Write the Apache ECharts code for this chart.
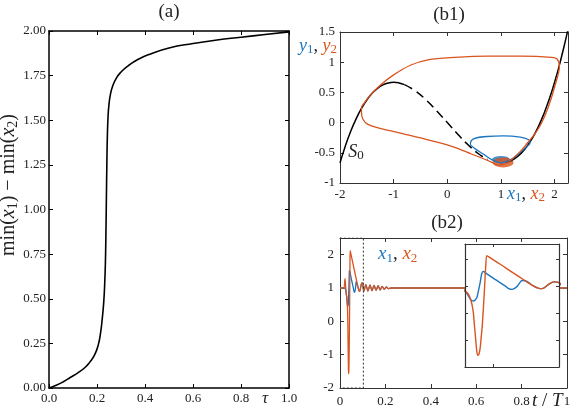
<!DOCTYPE html>
<html>
<head>
<meta charset="utf-8">
<script src="https://cdn.jsdelivr.net/npm/echarts@6/dist/echarts.min.js"></script>
<style>
html, body { margin: 0; padding: 0; background: #fff; }
#chart { width: 571px; height: 411px; }
</style>
</head>
<body>
<div id="chart"></div>
<script>
// (a) min(x1) - min(x2) against tau
const tauA  = [0, 0.03, 0.06, 0.09, 0.12, 0.15, 0.17, 0.19, 0.205, 0.215, 0.222, 0.228, 0.232, 0.235, 0.237, 0.239, 0.241, 0.243, 0.246, 0.25, 0.256, 0.265, 0.28, 0.3, 0.33, 0.37, 0.42, 0.5, 0.6, 0.7, 0.8, 0.9, 1.0];
const diffA = [0, 0.015, 0.035, 0.06, 0.085, 0.115, 0.145, 0.185, 0.24, 0.31, 0.39, 0.48, 0.58, 0.70, 0.85, 1.05, 1.25, 1.40, 1.52, 1.59, 1.645, 1.69, 1.735, 1.77, 1.805, 1.84, 1.87, 1.905, 1.93, 1.95, 1.965, 1.98, 1.995];

// (b1) S0 curve
const s0Left   = [[-2.0,-0.667],[-1.9,-0.386],[-1.8,-0.144],[-1.7,0.062],[-1.6,0.235],[-1.5,0.375],[-1.4,0.485],[-1.3,0.568],[-1.2,0.624],[-1.1,0.656],[-1.0,0.667],[-0.9,0.657],[-0.8,0.629]];
const s0Middle = [[-0.8,0.629],[-0.6,0.528],[-0.4,0.379],[-0.2,0.197],[0,0],[0.2,-0.197],[0.4,-0.379],[0.6,-0.528],[0.75,-0.609]];
const s0Right  = [[1.1,-0.656],[1.2,-0.624],[1.3,-0.568],[1.4,-0.485],[1.5,-0.375],[1.6,-0.235],[1.7,-0.062],[1.8,0.144],[1.9,0.386],[2.0,0.667],[2.1,0.987],[2.2,1.349],[2.25,1.547]];
// (b1) trajectories (x2,y2) and (x1,y1)
const loopX2Y2 = [[1.0,-0.70],[0.91,-0.69],[0.76,-0.63],[0.45,-0.52],[0.14,-0.41],[-0.3,-0.30],[-0.8,-0.19],[-1.23,-0.10],[-1.48,-0.03],[-1.575,0.06],[-1.6,0.17],[-1.6,0.25],[-1.55,0.32],[-1.44,0.45],[-1.25,0.62],[-1.0,0.79],[-0.69,0.95],[-0.36,1.04],[0.14,1.08],[0.76,1.10],[1.38,1.10],[1.94,1.08],[2.05,1.05],[2.09,0.94],[2.0,0.59],[1.88,0.25],[1.75,-0.02],[1.63,-0.19],[1.5,-0.33],[1.38,-0.46],[1.25,-0.57],[1.13,-0.66],[1.0,-0.70]];
const loopX1Y1 = [[1.0,-0.67],[0.86,-0.63],[0.67,-0.52],[0.5,-0.42],[0.43,-0.36],[0.49,-0.27],[0.74,-0.23],[1.05,-0.22],[1.36,-0.24],[1.51,-0.28],[1.545,-0.33],[1.45,-0.42],[1.3,-0.54],[1.15,-0.63],[1.0,-0.67]];
const blobX1 = [[1.0,-0.61]];
const blobX2 = [[1.04,-0.66]];

// (b2) time series x2 (orange) and x1 (blue)
const tX2  = [0, 0.016, 0.022, 0.025, 0.028, 0.0302, 0.0319, 0.0334, 0.0344, 0.0352, 0.0362, 0.037, 0.0378, 0.0387, 0.0396, 0.0405, 0.0414, 0.0429, 0.0439, 0.0447, 0.046, 0.055, 0.064, 0.0741, 0.0806, 0.084, 0.087, 0.0918, 0.0961, 0.1, 0.105, 0.114, 0.123, 0.132, 0.141, 0.15, 0.159, 0.168, 0.177, 0.186, 0.195, 0.204, 0.213, 0.225, 1.0];
const x2Vals = [1.0, 1.0, 1.28, 1.02, 0.81, 0.72, 0.56, 0.3, 0.0, -0.45, -0.98, -1.4, -1.57, -1.52, -1.3, -0.85, -0.36, 0.87, 1.73, 2.12, 2.08, 1.8, 1.51, 1.19, 0.99, 0.92, 0.9, 1.05, 1.15, 1.12, 0.9, 1.1, 0.91, 1.09, 0.92, 1.08, 0.93, 1.07, 0.94, 1.05, 0.96, 1.03, 0.98, 1.0, 1.0];
const tX1  = [0, 0.02, 0.028, 0.0302, 0.0319, 0.0334, 0.0344, 0.0356, 0.037, 0.0383, 0.0396, 0.0405, 0.0414, 0.0424, 0.0434, 0.051, 0.059, 0.0615, 0.064, 0.066, 0.068, 0.070, 0.0717, 0.0741];
const x1Vals = [1.0, 1.0, 0.81, 0.66, 0.52, 0.45, 0.44, 0.47, 0.56, 0.82, 1.12, 1.38, 1.52, 1.53, 1.49, 1.24, 0.99, 0.9, 0.87, 0.91, 0.99, 1.12, 1.2, 1.19];
const zoomWindow = [0, 0.103];

const FONT = 'Liberation Serif';
const BLUE = '#1b76c0';
const ORANGE = '#d9541e';
const INK = '#222';

const orangeData = tX2.map((t, i) => [t, x2Vals[i]]);
const blueData = tX1.map((t, i) => [t, x1Vals[i]]).concat(orangeData.filter(p => p[0] > tX1[tX1.length - 1]));
const windowBox = [[zoomWindow[0], 2.5], [zoomWindow[1], 2.5], [zoomWindow[1], -2], [zoomWindow[0], -2]];

function axisPair(kind, grid, min, max, interval, label, frame, extra) {
    const base = {
        gridIndex: grid, type: 'value', min: min, max: max, interval: interval,
        splitLine: { show: false },
        axisLine: { show: true, onZero: false, lineStyle: { color: frame.color, width: frame.width } },
        axisTick: { show: true, inside: true, length: 4, lineStyle: { color: frame.color, width: 1 } },
        z: frame.z || 0
    };
    Object.assign(base, extra || {});
    const pos = kind === 'x' ? ['bottom', 'top'] : ['left', 'right'];
    return [
        Object.assign({}, base, { position: pos[0], axisLabel: label }),
        Object.assign({}, base, { position: pos[1], axisLabel: { show: false } })
    ];
}
function tickLabel(margin, fmt, more) {
    return Object.assign({ show: true, margin: margin, color: INK, fontFamily: FONT, fontSize: 13, formatter: fmt }, more || {});
}

const frameA = { color: '#000', width: 1.5 };
const frameB = { color: '#333', width: 1 };
const frameIn = { color: '#333', width: 1.2, z: 5 };

const xAxis = [].concat(
    axisPair('x', 0, 0, 1, 0.2, tickLabel(4, v => v.toFixed(1)), frameA),
    axisPair('x', 1, -2, 2.25, 1, tickLabel(5, v => Number.isInteger(v) ? String(v) : '', { showMaxLabel: false }), frameB),
    axisPair('x', 2, 0, 1, 0.2, tickLabel(7, v => String(+v.toFixed(1))), frameB),
    axisPair('x', 3, 0.028, 0.1, null, { show: false }, frameIn, { axisTick: { show: true, inside: true, length: 3, customValues: [0.05], lineStyle: { color: '#333' } } })
);
const yAxis = [].concat(
    axisPair('y', 0, 0, 2, 0.25, tickLabel(3, v => v.toFixed(2)), frameA),
    axisPair('y', 1, -1, 1.5, 0.5, tickLabel(5, v => String(v)), frameB),
    axisPair('y', 2, -2, 2.5, 1, tickLabel(6, v => String(v), { showMaxLabel: false }), frameB),
    axisPair('y', 3, -2, 2.55, 1, { show: false }, frameIn, { axisTick: { show: true, inside: true, length: 3, lineStyle: { color: '#333' } } })
);

function line(xi, data, color, width, more) {
    return Object.assign({
        type: 'line', xAxisIndex: xi, yAxisIndex: xi, data: data,
        showSymbol: false, symbol: 'none', silent: true,
        lineStyle: { color: color, width: width }
    }, more || {});
}

const series = [
    line(0, tauA.map((t, i) => [t, diffA[i]]), '#000', 1.6, { smooth: 0.5 }),

    line(2, s0Left, '#000', 1.5, { smooth: true }),
    line(2, s0Middle, '#000', 1.5, { smooth: true, lineStyle: { color: '#000', width: 1.5, type: [9, 5] } }),
    line(2, s0Right, '#000', 1.5, { smooth: true }),
    line(2, loopX1Y1, BLUE, 1.3, { smooth: 0.4 }),
    line(2, loopX2Y2, ORANGE, 1.3, { smooth: 0.35 }),
    { type: 'scatter', xAxisIndex: 2, yAxisIndex: 2, data: blobX1, symbol: 'circle', symbolSize: [18, 7], itemStyle: { color: BLUE }, silent: true },
    { type: 'scatter', xAxisIndex: 2, yAxisIndex: 2, data: blobX2, symbol: 'circle', symbolSize: [21, 10], itemStyle: { color: ORANGE }, silent: true },

    line(4, blueData, BLUE, 1.3, { z: 1, smooth: 0.3 }),
    line(4, orangeData, ORANGE, 1.3, { z: 1, smooth: 0.3 }),
    line(4, windowBox, '#333', 1, { z: 1, lineStyle: { color: '#333', width: 1, type: [2, 2] } }),

    line(6, blueData, BLUE, 1.4, { z: 4, smooth: 0.35 }),
    line(6, orangeData, ORANGE, 1.4, { z: 4, smooth: 0.35 })
];

function fonts(size, sub) {
    const base = { fontFamily: FONT, fontSize: size, lineHeight: size + 3 };
    const low = { fontFamily: FONT, fontSize: sub, lineHeight: Math.round(sub * 0.7), verticalAlign: 'bottom' };
    return {
        r:  Object.assign({ fill: INK }, base),
        i:  Object.assign({ fill: INK, fontStyle: 'italic' }, base),
        ib: Object.assign({ fill: BLUE, fontStyle: 'italic' }, base),
        io: Object.assign({ fill: ORANGE, fontStyle: 'italic' }, base),
        s:  Object.assign({ fill: INK }, low),
        sb: Object.assign({ fill: BLUE }, low),
        so: Object.assign({ fill: ORANGE }, low)
    };
}
function label(x, y, text, size, align, more) {
    return Object.assign({
        type: 'text', x: x, y: y, silent: true, z: 10,
        style: { text: text, rich: fonts(size, Math.round(size * 0.7)), align: align || 'left', verticalAlign: 'middle', fontFamily: FONT, fontSize: size, fill: INK }
    }, more || {});
}
function title(x, y, text) {
    return { type: 'text', x: x, y: y, silent: true, z: 10,
        style: { text: text, align: 'center', verticalAlign: 'middle', fontFamily: FONT, fontSize: 19, fill: INK } };
}

const graphic = [
    title(169, 12, '(a)'),
    title(449, 15, '(b1)'),
    title(447, 223, '(b2)'),
    label(9, 185, '{r|min(}{i|x}{s|1}{r|) − min(}{i|x}{s|2}{r|)}', 20, 'center', { rotation: Math.PI / 2 }),
    label(265, 399, '{i|τ}', 17, 'center'),
    label(299, 46, '{ib|y}{sb|1}{r|, }{io|y}{so|2}', 18),
    label(356, 152, '{i|S}{s|0}', 18, 'center'),
    label(507, 194, '{ib|x}{sb|1}{r|, }{io|x}{so|2}', 18),
    label(378, 254, '{ib|x}{sb|1}{r|, }{io|x}{so|2}', 19),
    label(532, 401, '{i|t}{r| / }{i|T}', 19)
];

const chart = echarts.init(document.getElementById('chart'), null, { renderer: 'canvas' });
chart.setOption({
    animation: false,
    backgroundColor: '#fff',
    textStyle: { fontFamily: FONT },
    grid: [
        { left: 49, top: 31, width: 240, height: 357, outerBoundsMode: 'none' },
        { left: 340, top: 32, width: 228, height: 151, outerBoundsMode: 'none' },
        { left: 340, top: 238, width: 227, height: 150, outerBoundsMode: 'none' },
        { left: 465, top: 244, width: 94, height: 123, show: true, backgroundColor: '#fff', borderWidth: 0, z: 3, outerBoundsMode: 'none' }
    ],
    xAxis: xAxis,
    yAxis: yAxis,
    series: series,
    graphic: graphic
});
</script>
</body>
</html>
